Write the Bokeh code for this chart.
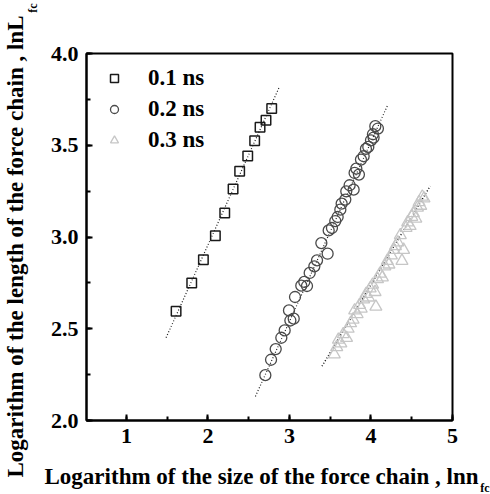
from bokeh.plotting import figure
from bokeh.models import Legend, LegendItem, SingleIntervalTicker, Range1d, NumeralTickFormatter, Title
from bokeh.embed import file_html
from bokeh.resources import INLINE

# ---- data ----
series_names = ["0.1 ns", "0.2 ns", "0.3 ns"]

sq_x = [1.609, 1.801, 1.944, 2.091, 2.206, 2.308, 2.389, 2.488, 2.573, 2.639, 2.712, 2.782]
sq_y = [2.596, 2.749, 2.876, 3.007, 3.131, 3.262, 3.358, 3.442, 3.524, 3.598, 3.636, 3.700]

ci_x = [2.704, 2.774, 2.831, 2.900, 2.941, 3.011, 3.052, 2.994, 3.068, 3.145, 3.215, 3.182, 3.248,
        3.305, 3.338, 3.391, 3.468, 3.481, 3.521, 3.562, 3.591, 3.624, 3.640, 3.685, 3.697, 3.738,
        3.787, 3.799, 3.852, 3.820, 3.877, 3.910, 3.938, 3.967, 4.000, 4.024, 4.053, 4.085, 4.032]
ci_y = [2.247, 2.331, 2.389, 2.451, 2.491, 2.545, 2.555, 2.600, 2.673, 2.735, 2.733, 2.755, 2.804,
        2.840, 2.873, 2.967, 2.909, 3.036, 3.049, 3.087, 3.109, 3.149, 3.182, 3.204, 3.249, 3.282,
        3.258, 3.349, 3.340, 3.373, 3.422, 3.440, 3.480, 3.491, 3.527, 3.560, 3.604, 3.591, 3.542]

tr_x = [3.55, 3.58, 3.60, 3.63, 3.66, 3.70, 3.72, 3.75, 3.78, 3.80, 3.83, 3.86, 3.88, 3.91, 3.94,
        3.97, 3.99, 4.02, 4.05, 4.06, 4.08, 4.11, 4.14, 4.17, 4.20, 4.22, 4.25, 4.28, 4.30, 4.33,
        4.36, 4.38, 4.40, 4.43, 4.45, 4.48, 4.50, 4.52, 4.55, 4.57, 4.59, 4.61, 4.63, 4.65]
tr_y = [2.36, 2.40, 2.44, 2.42, 2.47, 2.45, 2.50, 2.53, 2.55, 2.60, 2.58, 2.63, 2.61, 2.66, 2.69,
        2.67, 2.72, 2.74, 2.70, 2.62, 2.77, 2.80, 2.78, 2.84, 2.87, 2.85, 2.90, 2.93, 2.95, 2.97,
        3.01, 2.87, 2.93, 3.05, 3.08, 3.06, 3.11, 3.13, 3.10, 3.16, 3.19, 3.17, 3.22, 3.21]

# fitted (dotted) lines: end points
fit_sq_x = [1.486, 2.880]
fit_sq_y = [2.451, 3.822]
fit_ci_x = [2.582, 4.208]
fit_ci_y = [2.131, 3.722]
fit_tr_x = [3.399, 4.727]
fit_tr_y = [2.296, 3.278]

x_label = "Logarithm of the size of the force chain , lnn"
y_label = "Logarithm of the length of the force chain , lnL"
label_sub = "fc"

FONT = "Liberation Serif"

p = figure(width=490, height=494, x_range=Range1d(0.51, 5.0), y_range=Range1d(2.0, 4.0),
           output_backend="svg", toolbar_location=None,
           min_border_left=86, min_border_right=38, min_border_top=53, min_border_bottom=74)
p.background_fill_color = "white"
p.border_fill_color = "white"
p.xgrid.visible = False
p.ygrid.visible = False
p.outline_line_color = "black"
p.outline_line_width = 2

p.xaxis.ticker = SingleIntervalTicker(interval=1, num_minor_ticks=2)
p.yaxis.ticker = SingleIntervalTicker(interval=0.5, num_minor_ticks=2)
p.yaxis.formatter = NumeralTickFormatter(format="0.0")
for ax in (p.xaxis, p.yaxis):
    ax.axis_line_width = 2
    ax.axis_line_color = "black"
    ax.major_tick_in = 6
    ax.major_tick_out = 0
    ax.minor_tick_in = 4
    ax.minor_tick_out = 0
    ax.major_tick_line_width = 2
    ax.minor_tick_line_width = 2
    ax.major_label_text_font = FONT
    ax.major_label_text_font_style = "bold"
    ax.major_label_text_font_size = "22px"
    ax.major_label_text_color = "black"
p.xaxis.major_label_standoff = 8
p.yaxis.major_label_standoff = 8

# fit lines
p.line(fit_sq_x, fit_sq_y, line_color="#222222", line_width=1.2, line_dash="1 2")
p.line(fit_ci_x, fit_ci_y, line_color="#222222", line_width=1.2, line_dash="1 2")
p.line(fit_tr_x, fit_tr_y, line_color="#111111", line_width=1.4, line_dash="1 2")

r_sq = p.scatter(sq_x, sq_y, marker="square", size=9.5, fill_color=None, line_color="#1a1a1a", line_width=1.5)
r_ci = p.scatter(ci_x, ci_y, marker="circle", size=11, fill_color=None, line_color="#4a4a4a", line_width=1.3)
r_tr = p.scatter(tr_x, tr_y, marker="triangle", size=12, fill_color=None, line_color="#c6c6c6", line_width=1.3)

legend = Legend(items=[LegendItem(label=series_names[0], renderers=[r_sq]),
                       LegendItem(label=series_names[1], renderers=[r_ci]),
                       LegendItem(label=series_names[2], renderers=[r_tr])],
                location=(18, 267), margin=0, padding=0, spacing=5,
                glyph_width=20, glyph_height=20, label_height=20, label_standoff=24,
                label_text_font=FONT, label_text_font_style="bold", label_text_font_size="23px",
                label_text_color="black",
                border_line_color=None, background_fill_alpha=0)
p.add_layout(legend)

# axis titles built from side-panel titles (subscript in its own row/column)
common = dict(text_font=FONT, text_font_style="bold", text_color="black")
p.add_layout(Title(text=x_label, align="right", offset=-26, standoff=-86, vertical_align="bottom",
                   text_font_size="23px", **common), "below")
p.add_layout(Title(text=label_sub, align="right", offset=-37, standoff=-99, vertical_align="bottom",
                   text_font_size="12px", **common), "below")
p.add_layout(Title(text=label_sub, align="right", offset=-50, standoff=15, vertical_align="bottom",
                   text_font_size="12px", **common), "left")
p.add_layout(Title(text=y_label, align="right", offset=-38, standoff=-22, vertical_align="bottom",
                   text_font_size="23px", **common), "left")

open("out.html", "w").write(file_html(p, INLINE))
